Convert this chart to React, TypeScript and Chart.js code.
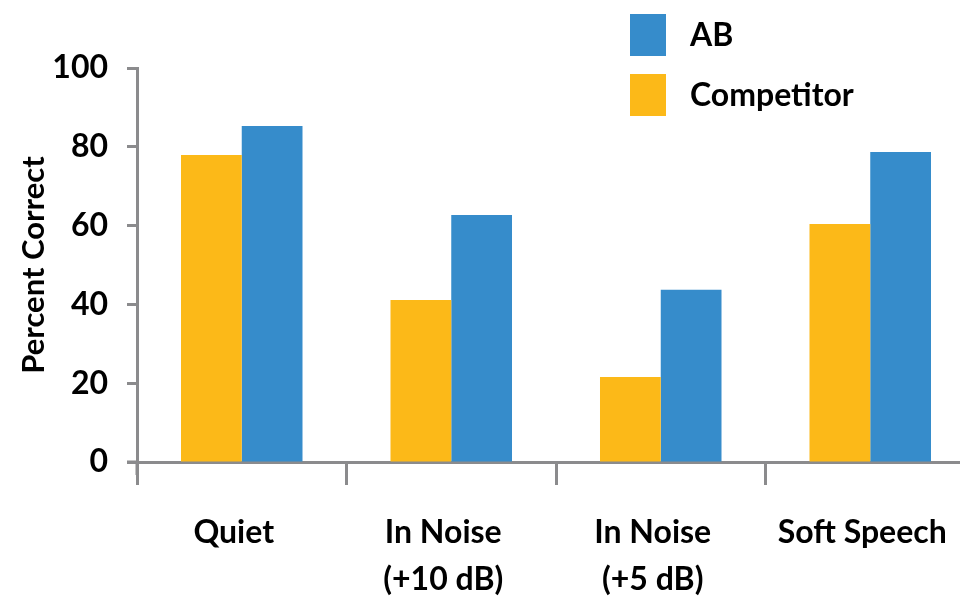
import React, { useEffect, useRef } from 'react';
import { Chart, registerables } from 'chart.js';

Chart.register(...registerables);

const categories: string[][] = [['Quiet'], ['In Noise', '(+10 dB)'], ['In Noise', '(+5 dB)'], ['Soft Speech']];
const competitorValues = [77.9, 41.1, 21.6, 60.4];
const abValues = [85.3, 62.7, 43.7, 78.7];
const seriesNames = ['Competitor', 'AB'];
const yMin = 0;
const yMax = 100;
const yStep = 20;
const yTitle = 'Percent Correct';

const YELLOW = '#fcb918';
const BLUE = '#368ccb';
const GRAY = '#8b8b8d';
const FONT = 'Lato, "Open Sans", sans-serif';
const WEIGHT = 'bold';

const legendPlugin = {
  id: 'boxLegend',
  afterDraw(chart: any) {
    const ctx = chart.ctx;
    const ds = chart.data.datasets.slice().reverse();
    ctx.save();
    ds.forEach((d: any, i: number) => {
      const y = 14 + i * 60;
      ctx.fillStyle = d.backgroundColor;
      ctx.fillRect(630, y, 36, 42);
      ctx.fillStyle = '#000';
      ctx.font = `${WEIGHT} 32px ${FONT}`;
      ctx.textAlign = 'left';
      ctx.textBaseline = 'middle';
      ctx.fillText(d.label, 690, y + 22);
    });
    ctx.restore();
  },
};

const axisExtPlugin = {
  id: 'axisExt',
  afterDraw(chart: any) {
    const { ctx, chartArea } = chart;
    ctx.save();
    ctx.strokeStyle = GRAY;
    ctx.lineWidth = 3;
    ctx.beginPath();
    ctx.moveTo(chartArea.left - 10, chartArea.bottom);
    ctx.lineTo(chartArea.left, chartArea.bottom);
    ctx.moveTo(chartArea.left, chartArea.bottom);
    ctx.lineTo(chartArea.left, chartArea.bottom + 13);
    ctx.stroke();
    ctx.restore();
  },
};

export default function App() {
  const ref = useRef<HTMLCanvasElement | null>(null);
  useEffect(() => {
    if (!ref.current) return;
    const chart = new Chart(ref.current, {
      type: 'bar',
      data: {
        labels: categories,
        datasets: [
          { label: seriesNames[0], data: competitorValues, backgroundColor: YELLOW, borderWidth: 0 },
          { label: seriesNames[1], data: abValues, backgroundColor: BLUE, borderWidth: 0 },
        ],
      },
      options: {
        responsive: false,
        animation: false,
        devicePixelRatio: 1,
        layout: { padding: { left: 0, top: 68, right: 15, bottom: 0 } },
        plugins: { legend: { display: false }, tooltip: { enabled: false } },
        datasets: { bar: { barPercentage: 1, categoryPercentage: 0.58 } },
        scales: {
          x: {
            grid: {
              display: true,
              offset: true,
              drawOnChartArea: false,
              tickLength: 23,
              tickColor: GRAY,
              tickWidth: 3,
            },
            border: { display: true, color: GRAY, width: 3 },
            ticks: {
              color: '#000',
              font: { family: FONT, size: 32, weight: WEIGHT, lineHeight: 1.47 },
              padding: 24,
              labelOffset: -8,
              maxRotation: 0,
              autoSkip: false,
            },
            afterFit(scale: any) {
              scale.height = 138;
            },
          },
          y: {
            min: yMin,
            max: yMax,
            ticks: {
              stepSize: yStep,
              color: '#000',
              font: { family: FONT, size: 32, weight: WEIGHT },
              padding: 19,
            },
            grid: {
              display: true,
              drawOnChartArea: false,
              tickLength: 10,
              tickColor: GRAY,
              tickWidth: 3,
            },
            border: { display: true, color: GRAY, width: 3 },
            title: {
              display: true,
              text: yTitle,
              color: '#000',
              font: { family: FONT, size: 31, weight: WEIGHT, lineHeight: 1.2 },
              padding: { top: 15, bottom: 0 },
            },
            afterFit(scale: any) {
              scale.width = 137;
            },
          },
        },
      },
      plugins: [legendPlugin, axisExtPlugin],
    } as any);
    return () => chart.destroy();
  }, []);
  return (
    <div style={{ position: 'relative', width: 960, height: 592, overflow: 'hidden' }}>
      <canvas
        ref={ref}
        width={990}
        height={600}
        style={{ position: 'absolute', left: -8, top: -8, display: 'block' }}
      />
    </div>
  );
}
